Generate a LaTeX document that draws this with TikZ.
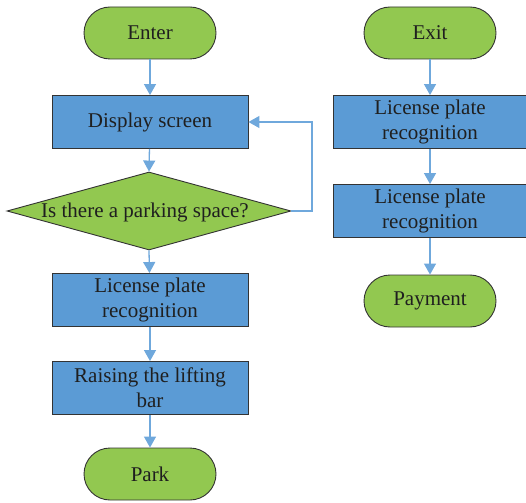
\documentclass[tikz,border=0pt]{standalone}
\usepackage{fontspec}
\setmainfont{Liberation Serif}
\usetikzlibrary{shapes.geometric,arrows.meta}
\definecolor{termgreen}{HTML}{92C850}
\definecolor{procblue}{HTML}{5B9BD5}
\definecolor{flowline}{HTML}{6FA8DC}
\definecolor{edge}{HTML}{333333}
\tikzset{
  x=1pt, y=-1pt,
  every node/.style={font=\fontsize{21}{25}\selectfont, text=black!88, align=center, inner sep=0pt},
  terminal/.style={draw=edge, line width=0.9pt, fill=termgreen, rounded corners=26pt,
    minimum width=132pt, minimum height=52pt},
  procbox/.style={draw=edge, line width=0.9pt, fill=procblue, minimum width=196pt, minimum height=53pt},
  decision/.style={draw=edge, line width=0.9pt, fill=termgreen, diamond, aspect=3.64,
    minimum width=284pt, minimum height=78pt},
  flow/.style={draw=flowline, line width=1.3pt, -{Triangle[width=12pt,length=11pt]}},
}
\begin{document}
\begin{tikzpicture}
\useasboundingbox (0,0) rectangle (526,502);
% left column: entering the car park
\node[terminal] (enter) at (150,33) {Enter};
\node[procbox] (display) at (150,122) {Display screen};
\node[decision] (space) at (149,211) {};
\node (spacetxt) at (145,212) {Is there a parking space?};
\node[procbox] (lprin) at (150,300) {License plate\\recognition};
\node[procbox] (raise) at (150,388) {Raising the lifting\\bar};
\node[terminal] (park) at (150,474) {Park};
% right column: leaving the car park
\node[terminal] (exit) at (430,33) {Exit};
\node[procbox, minimum width=194pt] (lprout1) at (430,122) {License plate\\recognition};
\node[procbox, minimum width=194pt] (lprout2) at (430,211) {License plate\\recognition};
\node[terminal] (pay) at (430,301) {Payment};
\coordinate (loopa) at (312,211);
\coordinate (loopb) at (312,122);
% connectors
\draw[flow] (enter) -- (display);
\draw[flow] (display) -- (space.north);
\draw[flow] (space.south) -- (lprin);
\draw[flow] (lprin) -- (raise);
\draw[flow] (raise) -- (park);
\draw[flow] (space.east) -- (loopa) -- (loopb) -- (display.east);
\draw[flow] (exit) -- (lprout1);
\draw[flow] (lprout1) -- (lprout2);
\draw[flow] (lprout2) -- (pay);
\end{tikzpicture}
\end{document}
